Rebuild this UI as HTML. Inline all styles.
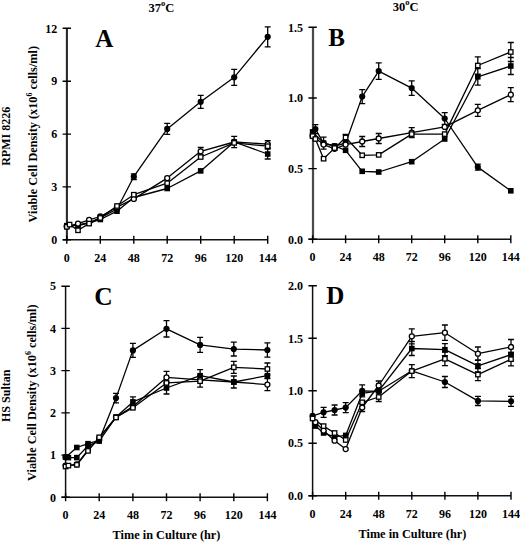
<!DOCTYPE html>
<html><head><meta charset="utf-8"><style>
html,body{margin:0;padding:0;background:#fff;width:520px;height:542px;overflow:hidden}
body{position:relative;font-family:"Liberation Serif", serif}
</style></head><body>
<svg width="520" height="542" viewBox="0 0 520 542" style="position:absolute;left:0;top:0">
<rect width="520" height="542" fill="#fff"/>
<g font-family='"Liberation Serif", serif' font-weight="bold" fill="#000">
<path d="M66.9 28.3V239.8" stroke="#2a2a2a" stroke-width="2.1" fill="none"/>
<path d="M62.8 239.8H267.7" stroke="#111" stroke-width="1.5" fill="none"/>
<path d="M62.6 239.8H71.0M62.6 186.9H71.0M62.6 134.1H71.0M62.6 81.2H71.0M62.6 28.3H71.0M66.8 235.8V243.8M100.3 235.8V243.8M133.8 235.8V243.8M167.2 235.8V243.8M200.7 235.8V243.8M234.2 235.8V243.8M267.7 235.8V243.8" stroke="#000" stroke-width="1.4" fill="none"/>
<text x="57.3" y="244.0" font-size="12" text-anchor="end">0</text>
<text x="57.3" y="191.1" font-size="12" text-anchor="end">3</text>
<text x="57.3" y="138.2" font-size="12" text-anchor="end">6</text>
<text x="57.3" y="85.4" font-size="12" text-anchor="end">9</text>
<text x="57.3" y="32.5" font-size="12" text-anchor="end">12</text>
<text x="66.8" y="261.8" font-size="12" text-anchor="middle">0</text>
<text x="100.3" y="261.8" font-size="12" text-anchor="middle">24</text>
<text x="133.8" y="261.8" font-size="12" text-anchor="middle">48</text>
<text x="167.2" y="261.8" font-size="12" text-anchor="middle">72</text>
<text x="200.7" y="261.8" font-size="12" text-anchor="middle">96</text>
<text x="234.2" y="261.8" font-size="12" text-anchor="middle">120</text>
<text x="267.7" y="261.8" font-size="12" text-anchor="middle">144</text>
<path d="M313.0 27.3V239.3" stroke="#4a4a4a" stroke-width="2.2" fill="none"/>
<path d="M308.6 239.3H510.8" stroke="#111" stroke-width="1.5" fill="none"/>
<path d="M308.4 239.3H316.8M308.4 168.6H316.8M308.4 98.0H316.8M308.4 27.3H316.8M312.6 235.3V243.3M345.6 235.3V243.3M378.7 235.3V243.3M411.7 235.3V243.3M444.7 235.3V243.3M477.8 235.3V243.3M510.8 235.3V243.3" stroke="#000" stroke-width="1.4" fill="none"/>
<text x="303.1" y="243.5" font-size="12" text-anchor="end">0.0</text>
<text x="303.1" y="172.8" font-size="12" text-anchor="end">0.5</text>
<text x="303.1" y="102.2" font-size="12" text-anchor="end">1.0</text>
<text x="303.1" y="31.5" font-size="12" text-anchor="end">1.5</text>
<text x="312.6" y="261.3" font-size="12" text-anchor="middle">0</text>
<text x="345.6" y="261.3" font-size="12" text-anchor="middle">24</text>
<text x="378.7" y="261.3" font-size="12" text-anchor="middle">48</text>
<text x="411.7" y="261.3" font-size="12" text-anchor="middle">72</text>
<text x="444.7" y="261.3" font-size="12" text-anchor="middle">96</text>
<text x="477.8" y="261.3" font-size="12" text-anchor="middle">120</text>
<text x="510.8" y="261.3" font-size="12" text-anchor="middle">144</text>
<path d="M65.6 286.2V497.3" stroke="#111" stroke-width="1.5" fill="none"/>
<path d="M61.6 497.3H267.4" stroke="#111" stroke-width="1.5" fill="none"/>
<path d="M61.4 497.3H69.8M61.4 455.1H69.8M61.4 412.9H69.8M61.4 370.6H69.8M61.4 328.4H69.8M61.4 286.2H69.8M65.6 493.3V501.3M99.2 493.3V501.3M132.9 493.3V501.3M166.5 493.3V501.3M200.1 493.3V501.3M233.8 493.3V501.3M267.4 493.3V501.3" stroke="#000" stroke-width="1.4" fill="none"/>
<text x="56.1" y="501.5" font-size="12" text-anchor="end">0</text>
<text x="56.1" y="459.3" font-size="12" text-anchor="end">1</text>
<text x="56.1" y="417.1" font-size="12" text-anchor="end">2</text>
<text x="56.1" y="374.8" font-size="12" text-anchor="end">3</text>
<text x="56.1" y="332.6" font-size="12" text-anchor="end">4</text>
<text x="56.1" y="290.4" font-size="12" text-anchor="end">5</text>
<text x="65.6" y="519.3" font-size="12" text-anchor="middle">0</text>
<text x="99.2" y="519.3" font-size="12" text-anchor="middle">24</text>
<text x="132.9" y="519.3" font-size="12" text-anchor="middle">48</text>
<text x="166.5" y="519.3" font-size="12" text-anchor="middle">72</text>
<text x="200.1" y="519.3" font-size="12" text-anchor="middle">96</text>
<text x="233.8" y="519.3" font-size="12" text-anchor="middle">120</text>
<text x="267.4" y="519.3" font-size="12" text-anchor="middle">144</text>
<path d="M312.6 285.8V495.7" stroke="#111" stroke-width="1.5" fill="none"/>
<path d="M308.6 495.7H511.0" stroke="#111" stroke-width="1.5" fill="none"/>
<path d="M308.4 495.7H316.8M308.4 443.2H316.8M308.4 390.8H316.8M308.4 338.3H316.8M308.4 285.8H316.8M312.6 491.7V499.7M345.7 491.7V499.7M378.7 491.7V499.7M411.8 491.7V499.7M444.9 491.7V499.7M477.9 491.7V499.7M511.0 491.7V499.7" stroke="#000" stroke-width="1.4" fill="none"/>
<text x="303.1" y="499.9" font-size="12" text-anchor="end">0.0</text>
<text x="303.1" y="447.4" font-size="12" text-anchor="end">0.5</text>
<text x="303.1" y="394.9" font-size="12" text-anchor="end">1.0</text>
<text x="303.1" y="342.5" font-size="12" text-anchor="end">1.5</text>
<text x="303.1" y="290.0" font-size="12" text-anchor="end">2.0</text>
<text x="312.6" y="517.7" font-size="12" text-anchor="middle">0</text>
<text x="345.7" y="517.7" font-size="12" text-anchor="middle">24</text>
<text x="378.7" y="517.7" font-size="12" text-anchor="middle">48</text>
<text x="411.8" y="517.7" font-size="12" text-anchor="middle">72</text>
<text x="444.9" y="517.7" font-size="12" text-anchor="middle">96</text>
<text x="477.9" y="517.7" font-size="12" text-anchor="middle">120</text>
<text x="511.0" y="517.7" font-size="12" text-anchor="middle">144</text>
<path d="M66.8 226.1 L78.0 224.8 L89.1 222.7 L100.3 217.8 L117.0 209.0 L133.8 176.7 L167.2 128.9 L200.7 101.8 L234.2 77.3 L267.7 36.8" stroke="#000" stroke-width="1.3" fill="none" stroke-linejoin="round"/>
<path d="M66.8 226.6 L78.0 223.6 L89.1 219.9 L100.3 216.5 L117.0 207.2 L133.8 198.9 L167.2 178.1 L200.7 151.3 L234.2 142.0 L267.7 144.1" stroke="#000" stroke-width="1.3" fill="none" stroke-linejoin="round"/>
<path d="M66.8 226.8 L69.6 224.6 L78.0 230.3 L89.1 223.6 L100.3 217.9 L117.0 206.0 L133.8 194.7 L167.2 183.2 L200.7 157.0 L234.2 142.9 L267.7 146.2" stroke="#000" stroke-width="1.3" fill="none" stroke-linejoin="round"/>
<path d="M66.8 225.7 L78.0 225.7 L89.1 223.1 L100.3 219.5 L117.0 211.2 L133.8 197.5 L167.2 188.5 L200.7 170.9 L234.2 142.0 L267.7 154.0" stroke="#000" stroke-width="1.3" fill="none" stroke-linejoin="round"/>
<path d="M133.8 173.9V179.5M130.8 173.9H136.8M130.8 179.5H136.8M167.2 123.4V134.4M164.2 123.4H170.2M164.2 134.4H170.2M200.7 95.3V108.3M197.7 95.3H203.7M197.7 108.3H203.7M234.2 69.3V85.3M231.2 69.3H237.2M231.2 85.3H237.2M267.7 26.8V46.8M264.7 26.8H270.7M264.7 46.8H270.7M200.7 147.5V155.1M197.7 147.5H203.7M197.7 155.1H203.7M234.2 136.4V147.6M231.2 136.4H237.2M231.2 147.6H237.2M267.7 140.6V147.6M264.7 140.6H270.7M264.7 147.6H270.7M267.7 149.0V159.0M264.7 149.0H270.7M264.7 159.0H270.7" stroke="#000" stroke-width="1.3" fill="none"/>
<circle cx="66.8" cy="226.1" r="3.10" fill="#000"/>
<circle cx="78.0" cy="224.8" r="3.10" fill="#000"/>
<circle cx="89.1" cy="222.7" r="3.10" fill="#000"/>
<circle cx="100.3" cy="217.8" r="3.10" fill="#000"/>
<circle cx="117.0" cy="209.0" r="3.10" fill="#000"/>
<circle cx="133.8" cy="176.7" r="3.10" fill="#000"/>
<circle cx="167.2" cy="128.9" r="3.10" fill="#000"/>
<circle cx="200.7" cy="101.8" r="3.10" fill="#000"/>
<circle cx="234.2" cy="77.3" r="3.10" fill="#000"/>
<circle cx="267.7" cy="36.8" r="3.10" fill="#000"/>
<rect x="64.0" y="222.9" width="5.6" height="5.6" fill="#000"/>
<rect x="75.2" y="222.9" width="5.6" height="5.6" fill="#000"/>
<rect x="86.3" y="220.3" width="5.6" height="5.6" fill="#000"/>
<rect x="97.5" y="216.7" width="5.6" height="5.6" fill="#000"/>
<rect x="114.2" y="208.4" width="5.6" height="5.6" fill="#000"/>
<rect x="131.0" y="194.7" width="5.6" height="5.6" fill="#000"/>
<rect x="164.4" y="185.7" width="5.6" height="5.6" fill="#000"/>
<rect x="197.9" y="168.1" width="5.6" height="5.6" fill="#000"/>
<rect x="231.4" y="139.2" width="5.6" height="5.6" fill="#000"/>
<rect x="264.9" y="151.2" width="5.6" height="5.6" fill="#000"/>
<circle cx="66.8" cy="226.6" r="2.50" fill="#fff" stroke="#000" stroke-width="1.3"/>
<circle cx="78.0" cy="223.6" r="2.50" fill="#fff" stroke="#000" stroke-width="1.3"/>
<circle cx="89.1" cy="219.9" r="2.50" fill="#fff" stroke="#000" stroke-width="1.3"/>
<circle cx="100.3" cy="216.5" r="2.50" fill="#fff" stroke="#000" stroke-width="1.3"/>
<circle cx="117.0" cy="207.2" r="2.50" fill="#fff" stroke="#000" stroke-width="1.3"/>
<circle cx="133.8" cy="198.9" r="2.50" fill="#fff" stroke="#000" stroke-width="1.3"/>
<circle cx="167.2" cy="178.1" r="2.50" fill="#fff" stroke="#000" stroke-width="1.3"/>
<circle cx="200.7" cy="151.3" r="2.50" fill="#fff" stroke="#000" stroke-width="1.3"/>
<circle cx="234.2" cy="142.0" r="2.50" fill="#fff" stroke="#000" stroke-width="1.3"/>
<circle cx="267.7" cy="144.1" r="2.50" fill="#fff" stroke="#000" stroke-width="1.3"/>
<rect x="64.6" y="224.6" width="4.4" height="4.4" fill="#fff" stroke="#000" stroke-width="1.3"/>
<rect x="67.4" y="222.4" width="4.4" height="4.4" fill="#fff" stroke="#000" stroke-width="1.3"/>
<rect x="75.8" y="228.1" width="4.4" height="4.4" fill="#fff" stroke="#000" stroke-width="1.3"/>
<rect x="86.9" y="221.4" width="4.4" height="4.4" fill="#fff" stroke="#000" stroke-width="1.3"/>
<rect x="98.1" y="215.7" width="4.4" height="4.4" fill="#fff" stroke="#000" stroke-width="1.3"/>
<rect x="114.8" y="203.8" width="4.4" height="4.4" fill="#fff" stroke="#000" stroke-width="1.3"/>
<rect x="131.6" y="192.5" width="4.4" height="4.4" fill="#fff" stroke="#000" stroke-width="1.3"/>
<rect x="165.0" y="181.0" width="4.4" height="4.4" fill="#fff" stroke="#000" stroke-width="1.3"/>
<rect x="198.5" y="154.8" width="4.4" height="4.4" fill="#fff" stroke="#000" stroke-width="1.3"/>
<rect x="232.0" y="140.7" width="4.4" height="4.4" fill="#fff" stroke="#000" stroke-width="1.3"/>
<rect x="265.5" y="144.0" width="4.4" height="4.4" fill="#fff" stroke="#000" stroke-width="1.3"/>
<path d="M315.4 129.1 L323.6 143.2 L334.6 146.0 L345.6 143.2 L362.2 96.6 L378.7 71.1 L411.7 88.1 L444.7 118.5 L477.8 167.1 L510.8 190.8" stroke="#000" stroke-width="1.3" fill="none" stroke-linejoin="round"/>
<path d="M312.6 136.1 L323.6 144.6 L334.6 148.8 L345.6 144.6 L362.2 141.5 L378.7 138.5 L411.7 132.7 L444.7 126.9 L477.8 110.3 L510.8 94.7" stroke="#000" stroke-width="1.3" fill="none" stroke-linejoin="round"/>
<path d="M312.6 136.1 L315.4 139.0 L323.6 158.7 L334.6 148.1 L345.6 137.5 L362.2 155.3 L378.7 154.9 L411.7 134.1 L444.7 134.1 L477.8 65.5 L510.8 52.0" stroke="#000" stroke-width="1.3" fill="none" stroke-linejoin="round"/>
<path d="M312.6 131.9 L323.6 143.2 L334.6 146.0 L345.6 150.3 L362.2 171.3 L378.7 172.0 L411.7 161.7 L444.7 139.0 L477.8 76.8 L510.8 66.0" stroke="#000" stroke-width="1.3" fill="none" stroke-linejoin="round"/>
<path d="M315.4 124.6V133.6M312.4 124.6H318.4M312.4 133.6H318.4M362.2 89.6V103.6M359.2 89.6H365.2M359.2 103.6H365.2M378.7 62.8V79.4M375.7 62.8H381.7M375.7 79.4H381.7M411.7 80.8V95.4M408.7 80.8H414.7M408.7 95.4H414.7M444.7 112.7V124.3M441.7 112.7H447.7M441.7 124.3H447.7M477.8 164.1V170.1M474.8 164.1H480.8M474.8 170.1H480.8M362.2 136.5V146.5M359.2 136.5H365.2M359.2 146.5H365.2M378.7 133.5V143.5M375.7 133.5H381.7M375.7 143.5H381.7M411.7 127.7V137.7M408.7 127.7H414.7M408.7 137.7H414.7M477.8 104.3V116.3M474.8 104.3H480.8M474.8 116.3H480.8M510.8 87.7V101.7M507.8 87.7H513.8M507.8 101.7H513.8M345.6 134.5V140.5M342.6 134.5H348.6M342.6 140.5H348.6M477.8 56.9V74.1M474.8 56.9H480.8M474.8 74.1H480.8M510.8 42.5V61.5M507.8 42.5H513.8M507.8 61.5H513.8M323.6 137.2V149.2M320.6 137.2H326.6M320.6 149.2H326.6M477.8 68.5V85.1M474.8 68.5H480.8M474.8 85.1H480.8M510.8 57.5V74.5M507.8 57.5H513.8M507.8 74.5H513.8" stroke="#000" stroke-width="1.3" fill="none"/>
<circle cx="315.4" cy="129.1" r="3.10" fill="#000"/>
<circle cx="323.6" cy="143.2" r="3.10" fill="#000"/>
<circle cx="334.6" cy="146.0" r="3.10" fill="#000"/>
<circle cx="345.6" cy="143.2" r="3.10" fill="#000"/>
<circle cx="362.2" cy="96.6" r="3.10" fill="#000"/>
<circle cx="378.7" cy="71.1" r="3.10" fill="#000"/>
<circle cx="411.7" cy="88.1" r="3.10" fill="#000"/>
<circle cx="444.7" cy="118.5" r="3.10" fill="#000"/>
<circle cx="477.8" cy="167.1" r="3.10" fill="#000"/>
<rect x="508.0" y="188.0" width="5.6" height="5.6" fill="#000"/>
<rect x="309.8" y="129.1" width="5.6" height="5.6" fill="#000"/>
<rect x="320.8" y="140.4" width="5.6" height="5.6" fill="#000"/>
<rect x="331.8" y="143.2" width="5.6" height="5.6" fill="#000"/>
<rect x="342.8" y="147.5" width="5.6" height="5.6" fill="#000"/>
<rect x="359.4" y="168.5" width="5.6" height="5.6" fill="#000"/>
<rect x="375.9" y="169.2" width="5.6" height="5.6" fill="#000"/>
<rect x="408.9" y="158.9" width="5.6" height="5.6" fill="#000"/>
<rect x="441.9" y="136.2" width="5.6" height="5.6" fill="#000"/>
<rect x="475.0" y="74.0" width="5.6" height="5.6" fill="#000"/>
<rect x="508.0" y="63.2" width="5.6" height="5.6" fill="#000"/>
<circle cx="312.6" cy="136.1" r="2.50" fill="#fff" stroke="#000" stroke-width="1.3"/>
<circle cx="323.6" cy="144.6" r="2.50" fill="#fff" stroke="#000" stroke-width="1.3"/>
<circle cx="334.6" cy="148.8" r="2.50" fill="#fff" stroke="#000" stroke-width="1.3"/>
<circle cx="345.6" cy="144.6" r="2.50" fill="#fff" stroke="#000" stroke-width="1.3"/>
<circle cx="362.2" cy="141.5" r="2.50" fill="#fff" stroke="#000" stroke-width="1.3"/>
<circle cx="378.7" cy="138.5" r="2.50" fill="#fff" stroke="#000" stroke-width="1.3"/>
<circle cx="411.7" cy="132.7" r="2.50" fill="#fff" stroke="#000" stroke-width="1.3"/>
<circle cx="444.7" cy="126.9" r="2.50" fill="#fff" stroke="#000" stroke-width="1.3"/>
<circle cx="477.8" cy="110.3" r="2.50" fill="#fff" stroke="#000" stroke-width="1.3"/>
<circle cx="510.8" cy="94.7" r="2.50" fill="#fff" stroke="#000" stroke-width="1.3"/>
<rect x="310.4" y="133.9" width="4.4" height="4.4" fill="#fff" stroke="#000" stroke-width="1.3"/>
<rect x="313.2" y="136.8" width="4.4" height="4.4" fill="#fff" stroke="#000" stroke-width="1.3"/>
<rect x="321.4" y="156.5" width="4.4" height="4.4" fill="#fff" stroke="#000" stroke-width="1.3"/>
<rect x="332.4" y="145.9" width="4.4" height="4.4" fill="#fff" stroke="#000" stroke-width="1.3"/>
<rect x="343.4" y="135.3" width="4.4" height="4.4" fill="#fff" stroke="#000" stroke-width="1.3"/>
<rect x="360.0" y="153.1" width="4.4" height="4.4" fill="#fff" stroke="#000" stroke-width="1.3"/>
<rect x="376.5" y="152.7" width="4.4" height="4.4" fill="#fff" stroke="#000" stroke-width="1.3"/>
<rect x="409.5" y="131.9" width="4.4" height="4.4" fill="#fff" stroke="#000" stroke-width="1.3"/>
<rect x="442.5" y="131.9" width="4.4" height="4.4" fill="#fff" stroke="#000" stroke-width="1.3"/>
<rect x="475.6" y="63.3" width="4.4" height="4.4" fill="#fff" stroke="#000" stroke-width="1.3"/>
<rect x="508.6" y="49.8" width="4.4" height="4.4" fill="#fff" stroke="#000" stroke-width="1.3"/>
<path d="M65.6 457.2 L76.8 447.5 L88.0 443.7 L99.2 440.3 L116.0 398.1 L132.9 350.4 L166.5 328.8 L200.1 344.9 L233.8 349.1 L267.4 350.0" stroke="#000" stroke-width="1.3" fill="none" stroke-linejoin="round"/>
<path d="M65.6 465.6 L76.8 464.4 L88.0 450.0 L99.2 438.2 L116.0 417.1 L132.9 406.5 L166.5 377.4 L200.1 379.9 L233.8 382.0 L267.4 384.6" stroke="#000" stroke-width="1.3" fill="none" stroke-linejoin="round"/>
<path d="M65.6 466.5 L68.4 465.6 L76.8 464.8 L88.0 450.9 L99.2 437.3 L116.0 417.5 L132.9 407.8 L166.5 382.9 L200.1 381.2 L233.8 367.3 L267.4 369.0" stroke="#000" stroke-width="1.3" fill="none" stroke-linejoin="round"/>
<path d="M65.6 457.2 L68.4 457.6 L76.8 457.6 L88.0 445.8 L99.2 441.1 L116.0 417.1 L132.9 401.9 L166.5 388.0 L200.1 375.7 L233.8 382.0 L267.4 375.7" stroke="#000" stroke-width="1.3" fill="none" stroke-linejoin="round"/>
<path d="M116.0 393.3V402.9M113.0 393.3H119.0M113.0 402.9H119.0M132.9 343.4V357.4M129.9 343.4H135.9M129.9 357.4H135.9M166.5 320.6V337.0M163.5 320.6H169.5M163.5 337.0H169.5M200.1 337.4V352.4M197.1 337.4H203.1M197.1 352.4H203.1M233.8 342.2V356.0M230.8 342.2H236.8M230.8 356.0H236.8M267.4 342.9V357.1M264.4 342.9H270.4M264.4 357.1H270.4M166.5 371.4V383.4M163.5 371.4H169.5M163.5 383.4H169.5M267.4 378.6V390.6M264.4 378.6H270.4M264.4 390.6H270.4M200.1 375.2V387.2M197.1 375.2H203.1M197.1 387.2H203.1M233.8 361.3V373.3M230.8 361.3H236.8M230.8 373.3H236.8M267.4 363.0V375.0M264.4 363.0H270.4M264.4 375.0H270.4M132.9 396.9V406.9M129.9 396.9H135.9M129.9 406.9H135.9M166.5 382.0V394.0M163.5 382.0H169.5M163.5 394.0H169.5M200.1 369.7V381.7M197.1 369.7H203.1M197.1 381.7H203.1M233.8 376.0V388.0M230.8 376.0H236.8M230.8 388.0H236.8" stroke="#000" stroke-width="1.3" fill="none"/>
<circle cx="65.6" cy="457.2" r="3.10" fill="#000"/>
<rect x="74.0" y="444.7" width="5.6" height="5.6" fill="#000"/>
<rect x="85.2" y="440.9" width="5.6" height="5.6" fill="#000"/>
<circle cx="99.2" cy="440.3" r="3.10" fill="#000"/>
<circle cx="116.0" cy="398.1" r="3.10" fill="#000"/>
<circle cx="132.9" cy="350.4" r="3.10" fill="#000"/>
<circle cx="166.5" cy="328.8" r="3.10" fill="#000"/>
<circle cx="200.1" cy="344.9" r="3.10" fill="#000"/>
<circle cx="233.8" cy="349.1" r="3.10" fill="#000"/>
<circle cx="267.4" cy="350.0" r="3.10" fill="#000"/>
<rect x="62.8" y="454.4" width="5.6" height="5.6" fill="#000"/>
<rect x="65.6" y="454.8" width="5.6" height="5.6" fill="#000"/>
<rect x="74.0" y="454.8" width="5.6" height="5.6" fill="#000"/>
<rect x="85.2" y="443.0" width="5.6" height="5.6" fill="#000"/>
<rect x="96.4" y="438.3" width="5.6" height="5.6" fill="#000"/>
<rect x="113.2" y="414.3" width="5.6" height="5.6" fill="#000"/>
<rect x="130.1" y="399.1" width="5.6" height="5.6" fill="#000"/>
<rect x="163.7" y="385.2" width="5.6" height="5.6" fill="#000"/>
<rect x="197.3" y="372.9" width="5.6" height="5.6" fill="#000"/>
<rect x="231.0" y="379.2" width="5.6" height="5.6" fill="#000"/>
<rect x="264.6" y="372.9" width="5.6" height="5.6" fill="#000"/>
<circle cx="65.6" cy="465.6" r="2.50" fill="#fff" stroke="#000" stroke-width="1.3"/>
<circle cx="76.8" cy="464.4" r="2.50" fill="#fff" stroke="#000" stroke-width="1.3"/>
<circle cx="88.0" cy="450.0" r="2.50" fill="#fff" stroke="#000" stroke-width="1.3"/>
<circle cx="99.2" cy="438.2" r="2.50" fill="#fff" stroke="#000" stroke-width="1.3"/>
<circle cx="116.0" cy="417.1" r="2.50" fill="#fff" stroke="#000" stroke-width="1.3"/>
<circle cx="132.9" cy="406.5" r="2.50" fill="#fff" stroke="#000" stroke-width="1.3"/>
<circle cx="166.5" cy="377.4" r="2.50" fill="#fff" stroke="#000" stroke-width="1.3"/>
<circle cx="200.1" cy="379.9" r="2.50" fill="#fff" stroke="#000" stroke-width="1.3"/>
<rect x="231.0" y="379.2" width="5.6" height="5.6" fill="#000"/>
<circle cx="267.4" cy="384.6" r="2.50" fill="#fff" stroke="#000" stroke-width="1.3"/>
<rect x="63.4" y="464.3" width="4.4" height="4.4" fill="#fff" stroke="#000" stroke-width="1.3"/>
<rect x="66.2" y="463.4" width="4.4" height="4.4" fill="#fff" stroke="#000" stroke-width="1.3"/>
<rect x="74.6" y="462.6" width="4.4" height="4.4" fill="#fff" stroke="#000" stroke-width="1.3"/>
<rect x="85.8" y="448.7" width="4.4" height="4.4" fill="#fff" stroke="#000" stroke-width="1.3"/>
<rect x="97.0" y="435.1" width="4.4" height="4.4" fill="#fff" stroke="#000" stroke-width="1.3"/>
<rect x="113.8" y="415.3" width="4.4" height="4.4" fill="#fff" stroke="#000" stroke-width="1.3"/>
<rect x="130.7" y="405.6" width="4.4" height="4.4" fill="#fff" stroke="#000" stroke-width="1.3"/>
<rect x="164.3" y="380.7" width="4.4" height="4.4" fill="#fff" stroke="#000" stroke-width="1.3"/>
<rect x="197.9" y="379.0" width="4.4" height="4.4" fill="#fff" stroke="#000" stroke-width="1.3"/>
<rect x="231.6" y="365.1" width="4.4" height="4.4" fill="#fff" stroke="#000" stroke-width="1.3"/>
<rect x="265.2" y="366.8" width="4.4" height="4.4" fill="#fff" stroke="#000" stroke-width="1.3"/>
<path d="M312.6 415.9 L323.6 412.3 L334.6 410.0 L345.7 407.6 L362.2 390.8 L378.7 391.3 L411.8 370.8 L444.9 382.0 L477.9 400.9 L511.0 401.3" stroke="#000" stroke-width="1.3" fill="none" stroke-linejoin="round"/>
<path d="M315.4 422.2 L323.6 430.6 L334.6 440.7 L345.7 449.1 L362.2 407.5 L378.7 385.5 L411.8 336.3 L444.9 332.7 L477.9 353.7 L511.0 347.0" stroke="#000" stroke-width="1.3" fill="none" stroke-linejoin="round"/>
<path d="M315.4 426.1 L323.6 433.0 L334.6 436.9 L345.7 435.4 L362.2 393.4 L378.7 390.8 L411.8 348.5 L444.9 349.7 L477.9 365.9 L511.0 354.6" stroke="#000" stroke-width="1.3" fill="none" stroke-linejoin="round"/>
<path d="M312.6 418.5 L323.6 426.1 L334.6 433.0 L345.7 440.0 L362.2 402.3 L378.7 397.0 L411.8 371.1 L444.9 358.8 L477.9 374.6 L511.0 359.2" stroke="#000" stroke-width="1.3" fill="none" stroke-linejoin="round"/>
<path d="M323.6 407.3V417.3M320.6 407.3H326.6M320.6 417.3H326.6M334.6 405.0V415.0M331.6 405.0H337.6M331.6 415.0H337.6M345.7 402.6V412.6M342.7 402.6H348.7M342.7 412.6H348.7M362.2 384.8V396.8M359.2 384.8H365.2M359.2 396.8H365.2M444.9 376.5V387.5M441.9 376.5H447.9M441.9 387.5H447.9M477.9 396.3V405.5M474.9 396.3H480.9M474.9 405.5H480.9M511.0 396.3V406.3M508.0 396.3H514.0M508.0 406.3H514.0M362.2 403.5V411.5M359.2 403.5H365.2M359.2 411.5H365.2M378.7 381.0V390.0M375.7 381.0H381.7M375.7 390.0H381.7M411.8 328.8V343.8M408.8 328.8H414.8M408.8 343.8H414.8M444.9 325.0V340.4M441.9 325.0H447.9M441.9 340.4H447.9M477.9 347.0V360.4M474.9 347.0H480.9M474.9 360.4H480.9M511.0 339.5V354.5M508.0 339.5H514.0M508.0 354.5H514.0M411.8 341.5V355.5M408.8 341.5H414.8M408.8 355.5H414.8M444.9 343.7V355.7M441.9 343.7H447.9M441.9 355.7H447.9M477.9 359.9V371.9M474.9 359.9H480.9M474.9 371.9H480.9M511.0 348.6V360.6M508.0 348.6H514.0M508.0 360.6H514.0M378.7 392.5V401.5M375.7 392.5H381.7M375.7 401.5H381.7M411.8 364.6V377.6M408.8 364.6H414.8M408.8 377.6H414.8M444.9 352.0V365.6M441.9 352.0H447.9M441.9 365.6H447.9M477.9 368.6V380.6M474.9 368.6H480.9M474.9 380.6H480.9M511.0 352.5V365.9M508.0 352.5H514.0M508.0 365.9H514.0" stroke="#000" stroke-width="1.3" fill="none"/>
<circle cx="312.6" cy="415.9" r="3.10" fill="#000"/>
<circle cx="323.6" cy="412.3" r="3.10" fill="#000"/>
<circle cx="334.6" cy="410.0" r="3.10" fill="#000"/>
<circle cx="345.7" cy="407.6" r="3.10" fill="#000"/>
<circle cx="362.2" cy="390.8" r="3.10" fill="#000"/>
<circle cx="378.7" cy="391.3" r="3.10" fill="#000"/>
<circle cx="411.8" cy="370.8" r="3.10" fill="#000"/>
<circle cx="444.9" cy="382.0" r="3.10" fill="#000"/>
<circle cx="477.9" cy="400.9" r="3.10" fill="#000"/>
<circle cx="511.0" cy="401.3" r="3.10" fill="#000"/>
<rect x="312.6" y="423.3" width="5.6" height="5.6" fill="#000"/>
<rect x="320.8" y="430.2" width="5.6" height="5.6" fill="#000"/>
<rect x="331.8" y="434.1" width="5.6" height="5.6" fill="#000"/>
<rect x="342.9" y="432.6" width="5.6" height="5.6" fill="#000"/>
<rect x="359.4" y="390.6" width="5.6" height="5.6" fill="#000"/>
<rect x="375.9" y="387.9" width="5.6" height="5.6" fill="#000"/>
<rect x="409.0" y="345.7" width="5.6" height="5.6" fill="#000"/>
<rect x="442.1" y="346.9" width="5.6" height="5.6" fill="#000"/>
<rect x="475.1" y="363.1" width="5.6" height="5.6" fill="#000"/>
<rect x="508.2" y="351.8" width="5.6" height="5.6" fill="#000"/>
<circle cx="315.4" cy="422.2" r="2.50" fill="#fff" stroke="#000" stroke-width="1.3"/>
<circle cx="323.6" cy="430.6" r="2.50" fill="#fff" stroke="#000" stroke-width="1.3"/>
<circle cx="334.6" cy="440.7" r="2.50" fill="#fff" stroke="#000" stroke-width="1.3"/>
<circle cx="345.7" cy="449.1" r="2.50" fill="#fff" stroke="#000" stroke-width="1.3"/>
<circle cx="362.2" cy="407.5" r="2.50" fill="#fff" stroke="#000" stroke-width="1.3"/>
<circle cx="378.7" cy="385.5" r="2.50" fill="#fff" stroke="#000" stroke-width="1.3"/>
<circle cx="411.8" cy="336.3" r="2.50" fill="#fff" stroke="#000" stroke-width="1.3"/>
<circle cx="444.9" cy="332.7" r="2.50" fill="#fff" stroke="#000" stroke-width="1.3"/>
<circle cx="477.9" cy="353.7" r="2.50" fill="#fff" stroke="#000" stroke-width="1.3"/>
<circle cx="511.0" cy="347.0" r="2.50" fill="#fff" stroke="#000" stroke-width="1.3"/>
<rect x="310.4" y="416.3" width="4.4" height="4.4" fill="#fff" stroke="#000" stroke-width="1.3"/>
<rect x="321.4" y="423.9" width="4.4" height="4.4" fill="#fff" stroke="#000" stroke-width="1.3"/>
<rect x="332.4" y="430.8" width="4.4" height="4.4" fill="#fff" stroke="#000" stroke-width="1.3"/>
<rect x="343.5" y="437.8" width="4.4" height="4.4" fill="#fff" stroke="#000" stroke-width="1.3"/>
<rect x="360.0" y="400.1" width="4.4" height="4.4" fill="#fff" stroke="#000" stroke-width="1.3"/>
<rect x="376.5" y="394.8" width="4.4" height="4.4" fill="#fff" stroke="#000" stroke-width="1.3"/>
<rect x="409.6" y="368.9" width="4.4" height="4.4" fill="#fff" stroke="#000" stroke-width="1.3"/>
<rect x="442.7" y="356.6" width="4.4" height="4.4" fill="#fff" stroke="#000" stroke-width="1.3"/>
<rect x="475.7" y="372.4" width="4.4" height="4.4" fill="#fff" stroke="#000" stroke-width="1.3"/>
<rect x="508.8" y="357.0" width="4.4" height="4.4" fill="#fff" stroke="#000" stroke-width="1.3"/>
<text x="148.6" y="11.9" font-size="12.5">37<tspan font-size="8.5" dy="-5.6">o</tspan><tspan dy="5.6">C</tspan></text>
<text x="392.8" y="11.0" font-size="12.5">30<tspan font-size="8.5" dy="-5.6">o</tspan><tspan dy="5.6">C</tspan></text>
<text x="95.2" y="46.9" font-size="25">A</text>
<text x="328.3" y="46.3" font-size="25">B</text>
<text x="94.3" y="305.0" font-size="25.5">C</text>
<text x="326.2" y="304.0" font-size="25">D</text>
<text transform="translate(36.8 134.2) rotate(-90)" font-size="12.25" text-anchor="middle">Viable Cell Density (x10<tspan font-size="8" dy="-5">6</tspan><tspan dy="5"> cells/ml)</tspan></text>
<text transform="translate(36.4 392.7) rotate(-90)" font-size="12.25" text-anchor="middle">Viable Cell Density (x10<tspan font-size="8" dy="-5">6</tspan><tspan dy="5"> cells/ml)</tspan></text>
<text transform="translate(9.5 136.3) rotate(-90)" font-size="12" text-anchor="middle">RPMI 8226</text>
<text transform="translate(9.8 395.8) rotate(-90)" font-size="12" text-anchor="middle">HS Sultan</text>
<text x="166.5" y="538.9" font-size="12.3" text-anchor="middle">Time in Culture (hr)</text>
<text x="412.4" y="537.9" font-size="12.3" text-anchor="middle">Time in Culture (hr)</text>
</g></svg>
</body></html>
